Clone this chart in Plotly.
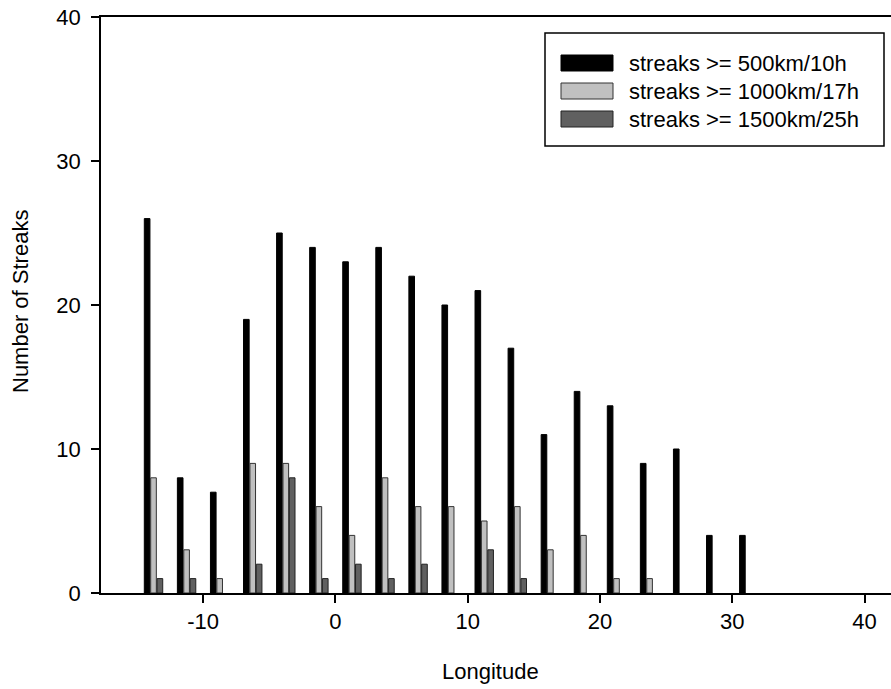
import plotly.graph_objects as go

longitudes = [-13.75, -11.25, -8.75, -6.25, -3.75, -1.25, 1.25, 3.75, 6.25, 8.75,
              11.25, 13.75, 16.25, 18.75, 21.25, 23.75, 26.25, 28.75, 31.25]
streaks_500 = [26, 8, 7, 19, 25, 24, 23, 24, 22, 20, 21, 17, 11, 14, 13, 9, 10, 4, 4]
streaks_1000 = [8, 3, 1, 9, 9, 6, 4, 8, 6, 6, 5, 6, 3, 4, 1, 1, 0, 0, 0]
streaks_1500 = [1, 1, 0, 2, 8, 1, 2, 1, 2, 0, 3, 1, 0, 0, 0, 0, 0, 0, 0]
series_names = ["streaks >= 500km/10h", "streaks >= 1000km/17h", "streaks >= 1500km/25h"]
series_fill = ["#000000", "#c0c0c0", "#606060"]
series_line = ["#000000", "#333333", "#222222"]
x_ticks = [-10, 0, 10, 20, 30, 40]
x_ticktext = ["-10", "0", "10", "20", "30", "40"]
y_ticks = [0, 10, 20, 30, 40]

W, H = 891, 689
L, R, T, B = 101, 0, 17, 96
pw, ph = W - L - R, H - T - B

def px(x):
    return (x - L) / pw

def py(y):
    return (H - B - y) / ph

FONT = "Arial, Liberation Sans, sans-serif"

fig = go.Figure()
for vals, name, fc, lc in zip([streaks_500, streaks_1000, streaks_1500], series_names, series_fill, series_line):
    fig.add_trace(go.Bar(x=longitudes, y=vals, name=name,
                         marker=dict(color=fc,
                                     line=dict(color=lc, width=[1 if v > 0 else 0 for v in vals])),
                         showlegend=False))

fig.update_layout(
    width=W, height=H,
    margin=dict(l=L, r=R, t=T, b=B),
    paper_bgcolor="white", plot_bgcolor="white",
    barmode="group", bargap=0.42, bargroupgap=0.12,
    font=dict(family=FONT, size=22, color="black"),
    xaxis=dict(range=[-17.72, 42.0], tickvals=x_ticks, ticktext=x_ticktext,
               ticks="outside", ticklen=8,
               tickwidth=1.5, tickcolor="black", showline=True, linecolor="black",
               linewidth=1.5, mirror=True, showgrid=False, zeroline=False,
               tickfont=dict(size=22)),
    yaxis=dict(range=[0, 40], tickvals=y_ticks, ticks="outside", ticklen=8,
               tickwidth=1.5, tickcolor="black", showline=True, linecolor="black",
               linewidth=1.5, showgrid=False, zeroline=False, ticklabelstandoff=6,
               tickfont=dict(size=22)),
)

# axis titles
fig.add_annotation(x=px(490), y=py(671), xref="paper", yref="paper", text="Longitude",
                   showarrow=False, font=dict(size=22), xanchor="center", yanchor="middle")
fig.add_annotation(x=px(20), y=py(302), xref="paper", yref="paper", text="Number of Streaks",
                   showarrow=False, font=dict(size=22), textangle=-90,
                   xanchor="center", yanchor="middle")

# legend box
fig.add_shape(type="rect", xref="paper", yref="paper",
              x0=px(545), x1=px(884), y0=py(146), y1=py(33),
              line=dict(color="black", width=1.5), fillcolor="white", layer="above")
row_centers = [63, 91, 119]
for yc, name, fc, lc in zip(row_centers, series_names, series_fill, series_line):
    fig.add_shape(type="rect", xref="paper", yref="paper",
                  x0=px(561), x1=px(613), y0=py(yc + 8), y1=py(yc - 8),
                  line=dict(color=lc, width=1), fillcolor=fc, layer="above")
    fig.add_annotation(x=px(627), y=py(yc), xref="paper", yref="paper", text=name,
                       showarrow=False, font=dict(size=22), xanchor="left", yanchor="middle")

fig.write_html("out.html")
